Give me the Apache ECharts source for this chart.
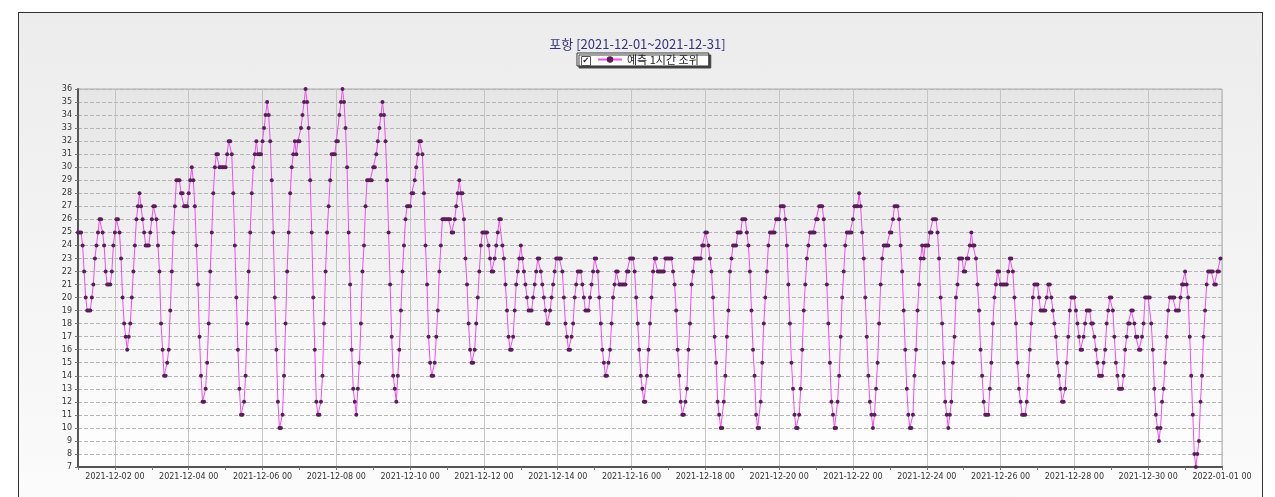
<!DOCTYPE html>
<html>
<head>
<meta charset="utf-8">
<script src="https://cdn.jsdelivr.net/npm/echarts/dist/echarts.min.js"></script>
<style>
  html, body { margin: 0; padding: 0; background: #fff; }
  #frame {
    position: absolute; left: 18px; top: 12px; width: 1245px; height: 490px;
    box-sizing: border-box; border: 1px solid #333;
    background: linear-gradient(#ececec, #fbfbfb);
  }
  #chart { position: absolute; left: 0; top: 0; width: 1275px; height: 497px; }
</style>
</head>
<body>
<div id="frame"></div>
<div id="chart"></div>
<script>
// hourly predicted tide, 2021-12-01 00 .. 2021-12-31 23 (one row per day)
const tide = [
  25,25,25,24,22,20,19,19,19,20,21,23,24,25,26,26,25,24,22,21,21,21,22,24,
  25,26,26,25,23,20,18,17,16,17,18,20,22,24,26,27,28,27,26,25,24,24,24,25,
  26,27,27,26,24,22,18,16,14,14,15,16,19,22,25,27,29,29,29,28,28,27,27,27,
  28,29,30,29,27,24,21,17,14,12,12,13,15,18,22,25,28,30,31,31,30,30,30,30,
  30,31,32,32,31,28,24,20,16,13,11,11,12,14,18,22,25,28,30,31,32,31,31,31,
  32,33,34,35,34,32,29,25,20,16,12,10,10,11,14,18,22,25,28,30,31,32,31,32,
  32,33,34,35,36,35,33,29,25,20,16,12,11,11,12,14,18,22,25,27,29,31,31,31,
  32,32,34,35,36,35,33,30,25,21,16,13,12,11,13,15,18,22,24,27,29,29,29,29,
  30,30,31,32,33,34,35,34,32,29,25,21,17,14,13,12,14,16,19,22,24,26,27,27,
  27,28,28,29,30,31,32,32,31,28,24,21,17,15,14,14,15,17,19,22,24,26,26,26,
  26,26,26,25,25,26,27,28,29,28,28,26,23,21,18,16,15,15,16,18,20,22,24,25,
  25,25,25,24,23,22,22,23,24,25,26,26,24,23,21,19,17,16,16,17,19,21,22,23,
  24,23,22,21,20,19,19,19,20,21,22,23,23,22,21,20,19,18,18,19,20,21,22,23,
  23,23,23,22,20,18,17,16,16,17,18,20,21,22,22,22,21,20,19,19,19,20,21,22,
  23,23,22,20,18,16,15,14,14,15,16,18,20,21,22,22,21,21,21,21,21,22,22,23,
  23,23,22,20,18,16,14,13,12,12,14,16,18,20,22,23,23,22,22,22,22,22,23,23,
  23,23,23,22,21,19,16,14,12,11,11,12,13,16,18,21,22,23,23,23,23,23,24,24,
  25,25,24,23,22,20,17,15,12,11,10,10,12,14,17,19,22,23,24,24,24,25,25,25,
  26,26,26,25,24,22,19,16,14,11,10,10,12,15,18,20,22,24,25,25,25,25,26,26,
  26,27,27,27,26,24,21,18,15,13,11,10,10,11,13,16,19,21,23,24,25,25,25,25,
  26,26,27,27,27,26,24,21,18,15,12,11,10,10,12,14,17,20,22,24,25,25,25,25,
  26,27,27,27,28,27,25,23,20,17,14,12,11,10,11,13,15,18,21,23,24,24,24,24,
  25,25,26,27,27,27,26,24,22,19,16,13,11,10,10,11,14,16,19,21,23,24,23,24,
  24,24,25,25,26,26,26,25,23,20,18,15,12,11,10,11,12,15,17,20,21,23,23,23,
  22,22,23,23,24,25,24,24,23,21,19,16,14,12,11,11,11,13,15,18,20,21,22,22,
  21,21,21,21,21,22,23,23,22,20,18,15,13,12,11,11,11,12,14,16,18,20,21,21,
  21,20,19,19,19,19,20,21,21,20,19,18,17,15,14,13,12,12,13,15,17,19,20,20,
  20,19,18,17,16,16,17,18,19,19,19,18,18,17,16,15,14,14,14,15,16,18,19,20,
  20,19,17,15,14,13,13,13,14,16,17,18,18,19,19,18,17,17,16,16,17,18,20,20,
  20,20,18,16,13,11,10,9,10,12,13,15,17,19,20,20,20,20,19,19,19,20,21,21,
  22,21,20,17,14,11,8,7,8,9,12,14,17,19,21,22,22,22,22,21,21,22,22,23
];

const tickLabels = [
  '2021-12-02 00', '2021-12-04 00', '2021-12-06 00', '2021-12-08 00',
  '2021-12-10 00', '2021-12-12 00', '2021-12-14 00', '2021-12-16 00',
  '2021-12-18 00', '2021-12-20 00', '2021-12-22 00', '2021-12-24 00',
  '2021-12-26 00', '2021-12-28 00', '2021-12-30 00', '2022-01-01 00'
];

const seriesName = '예측 1시간 조위';

// one category per hour, plus the closing hour 2022-01-01 00
const pad = (n) => String(n).padStart(2, '0');
const hours = [];
const start = new Date(2021, 11, 1, 0).getTime();
for (let i = 0; i <= tide.length; i++) {
  const d = new Date(start + i * 3600000);
  hours.push(d.getFullYear() + '-' + pad(d.getMonth() + 1) + '-' + pad(d.getDate()) + ' ' + pad(d.getHours()));
}

const chart = echarts.init(document.getElementById('chart'));
const isTick = (i, v) => tickLabels.includes(hours[i]);

const option = {
  animation: false,
  backgroundColor: 'transparent',
  title: {
    text: '포항 [2021-12-01~2021-12-31]',
    left: 'center',
    top: 33,
    textStyle: { fontFamily: 'Noto Sans CJK KR', fontSize: 13, fontWeight: 'normal', color: '#33337f' }
  },
  legend: {
    data: [seriesName],
    left: 577,
    top: 53,
    itemWidth: 24,
    itemHeight: 8,
    itemGap: 4,
    padding: [1, 10, 1, 20],
    backgroundColor: '#fff',
    borderColor: '#333',
    borderWidth: 1,
    shadowColor: '#444',
    shadowOffsetX: 2,
    shadowOffsetY: 2,
    shadowBlur: 0,
    textStyle: { fontFamily: 'Noto Sans CJK KR', fontSize: 11, color: '#222' }
  },
  graphic: [
    {
      type: 'group',
      left: 581,
      top: 56,
      z: 100,
      children: [
        { type: 'rect', z: 100, shape: { x: 0, y: 0, width: 9, height: 9 }, style: { fill: '#fff', stroke: '#555', lineWidth: 1 } },
        { type: 'text', z: 101, x: 1, y: 0, style: { text: '✔', fontSize: 8, fill: '#222', fontFamily: 'DejaVu Sans' } }
      ]
    }
  ],
  grid: {
    left: 78,
    right: 53,
    top: 89,
    bottom: 30,
    show: true,
    borderColor: '#aaa',
    borderWidth: 1,
    backgroundColor: {
      type: 'linear', x: 0, y: 0, x2: 0, y2: 1,
      colorStops: [{ offset: 0, color: '#e6e6e6' }, { offset: 1, color: '#ffffff' }]
    }
  },
  tooltip: { trigger: 'axis' },
  xAxis: {
    type: 'category',
    boundaryGap: false,
    data: hours,
    axisLine: { lineStyle: { color: '#555', width: 2 } },
    axisTick: { interval: (i) => i % 24 === 0, length: 3, lineStyle: { color: '#777' } },
    axisLabel: {
      interval: isTick,
      fontFamily: 'DejaVu Sans',
      fontSize: 8,
      color: '#333',
      margin: 6
    },
    splitLine: { show: true, interval: isTick, lineStyle: { color: '#c4c4c4', width: 1 } }
  },
  yAxis: {
    type: 'value',
    min: 7,
    max: 36,
    interval: 1,
    axisLine: { show: true, lineStyle: { color: '#555', width: 2 } },
    axisTick: { show: true, length: 3, lineStyle: { color: '#777' } },
    axisLabel: { fontFamily: 'DejaVu Sans', fontSize: 8, color: '#333', margin: 6 },
    splitLine: { show: true, lineStyle: { color: '#b4b4b4', type: 'dashed', width: 1 } }
  },
  series: [
    {
      name: seriesName,
      type: 'line',
      data: tide,
      symbol: 'circle',
      symbolSize: 4,
      showAllSymbol: true,
      lineStyle: { color: '#f04ef0', width: 1 },
      itemStyle: { color: '#5a1d5a' }
    }
  ]
};

chart.setOption(option);
</script>
</body>
</html>
